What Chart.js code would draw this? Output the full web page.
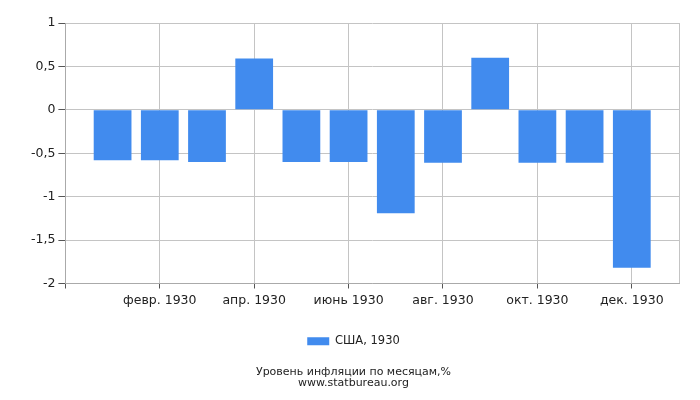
<!DOCTYPE html>
<html><head><meta charset="utf-8">
<script src="https://cdn.jsdelivr.net/npm/chart.js@4"></script>
<style>html,body{margin:0;padding:0;background:#fff}#w{width:700px;height:400px}</style>
</head><body><div id="w"><canvas id="c"></canvas></div>
<script>
const categories = ['', 'янв. 1930', 'февр. 1930', 'март 1930', 'апр. 1930', 'май 1930', 'июнь 1930', 'июль 1930', 'авг. 1930', 'сент. 1930', 'окт. 1930', 'нояб. 1930', 'дек. 1930', ''];
const values = [null, -0.58, -0.58, -0.60, 0.59, -0.60, -0.60, -1.19, -0.61, 0.60, -0.61, -0.61, -1.82, null];
const seriesName = 'США, 1930';
const titleLines = ['Уровень инфляции по месяцам,%', 'www.statbureau.org'];

const FONT = 'DejaVu Sans';
const shown = i => i > 0 && i % 2 === 0 && i <= 12;
const last = categories.length - 1;

new Chart(document.getElementById('c'), {
  type: 'bar',
  data: {
    labels: categories,
    datasets: [{
      label: seriesName,
      data: values,
      backgroundColor: '#418bee',
      borderWidth: 0,
      barPercentage: 0.8,
      categoryPercentage: 1.0
    }]
  },
  options: {
    responsive: true,
    maintainAspectRatio: false,
    animation: false,
    layout: { padding: { top: 23, right: 21, left: 28, bottom: 11 } },
    scales: {
      x: {
        offset: false,
        grid: {
          offset: false,
          color: c => (shown(c.index) || c.index === last) ? '#c4c4c4' : 'rgba(0,0,0,0)',
          tickColor: c => (shown(c.index) || c.index === 0) ? '#555' : 'rgba(0,0,0,0)',
          tickLength: 5
        },
        border: { color: '#aaa' },
        ticks: {
          autoSkip: false,
          maxRotation: 0,
          color: '#222',
          font: { family: FONT, size: 12.5 },
          padding: 5,
          callback: (v, i) => shown(i) ? categories[i] : ''
        }
      },
      y: {
        min: -2, max: 1,
        grid: { color: '#c4c4c4', tickColor: '#555', tickLength: 7 },
        border: { color: '#aaa' },
        ticks: {
          stepSize: 0.5,
          color: '#222',
          font: { family: FONT, size: 12.5 },
          padding: 3,
          callback: v => String(v).replace('.', ',')
        }
      }
    },
    plugins: {
      legend: {
        position: 'bottom',
        labels: { boxWidth: 22, boxHeight: 8, color: '#222', font: { family: FONT, size: 11.5 }, padding: 22 }
      },
      title: {
        display: true,
        position: 'bottom',
        text: titleLines,
        color: '#222',
        font: { family: FONT, size: 11, weight: 'normal', lineHeight: 1.0 },
        padding: { top: 10, bottom: 0 }
      },
      tooltip: { enabled: false }
    }
  }
});
</script></body></html>
